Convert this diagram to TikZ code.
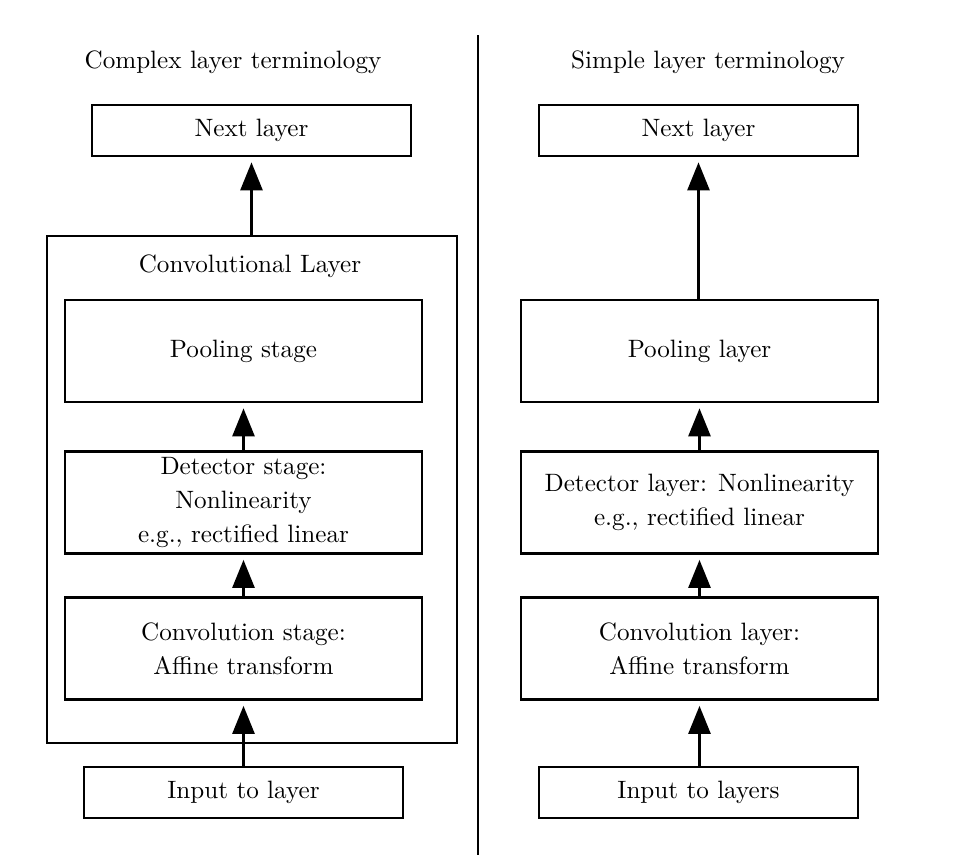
\documentclass[tikz,border=0pt]{standalone}
\usetikzlibrary{arrows.meta}
\begin{document}
\begin{tikzpicture}[x=0.41pt, y=-0.41pt,
  box/.style={draw, line width=1.2pt, inner sep=0pt, align=center,
    font=\fontsize{10.3}{14}\selectfont},
  endbox/.style={box, minimum width=319*0.41pt, minimum height=51*0.41pt},
  stagebox/.style={box, minimum width=357*0.41pt, minimum height=102*0.41pt},
  title/.style={font=\fontsize{10.3}{12}\selectfont, inner sep=0pt},
  arr/.style={line width=1.2pt, -{Triangle[width=9pt, length=11.5pt]}, shorten >=2pt}]
\useasboundingbox (0,0) rectangle (958,865);

% separator between the two panels
\coordinate (sepTop) at (478,35);
\coordinate (sepBot) at (478,855);
\draw[line width=1.2pt] (sepTop) -- (sepBot);

% left panel: complex terminology
\node[title] (ltitle) at (233,62) {Complex layer terminology};
\node[endbox] (lnext) at (251.5,130.5) {Next layer};
\node[draw, line width=1.2pt, inner sep=0pt, minimum width=410*0.41pt,
      minimum height=507*0.41pt] (convlayer) at (252,489.5) {};
\node[title] (convlabel) at (250,266) {Convolutional Layer};
\node[stagebox] (lpool) at (243.5,351) {Pooling stage};
\node[stagebox] (ldet) at (243.5,502.5) {Detector stage:\\Nonlinearity\\e.g., rectified linear};
\node[stagebox] (lconv) at (243.5,648.5) {Convolution stage:\\Affine transform};
\node[endbox] (linput) at (243.5,792.5) {Input to layer};

\draw[arr] (convlayer.north -| lnext.south) -- (lnext.south);
\draw[arr] (ldet.north) -- (lpool.south);
\draw[arr] (lconv.north) -- (ldet.south);
\draw[arr] (linput.north) -- (lconv.south);

% right panel: simple terminology
\node[title] (rtitle) at (708,62) {Simple layer terminology};
\node[endbox] (rnext) at (698.5,130.5) {Next layer};
\node[stagebox] (rpool) at (699.5,351) {Pooling layer};
\node[stagebox] (rdet) at (699.5,502.5) {Detector layer: Nonlinearity\\e.g., rectified linear};
\node[stagebox] (rconv) at (699.5,648.5) {Convolution layer:\\Affine transform};
\node[endbox] (rinput) at (698.5,792.5) {Input to layers};

\draw[arr] (rpool.north -| rnext.south) -- (rnext.south);
\draw[arr] (rdet.north) -- (rpool.south);
\draw[arr] (rconv.north) -- (rdet.south);
\draw[arr] (rinput.north -| rconv.south) -- (rconv.south);
\end{tikzpicture}
\end{document}
